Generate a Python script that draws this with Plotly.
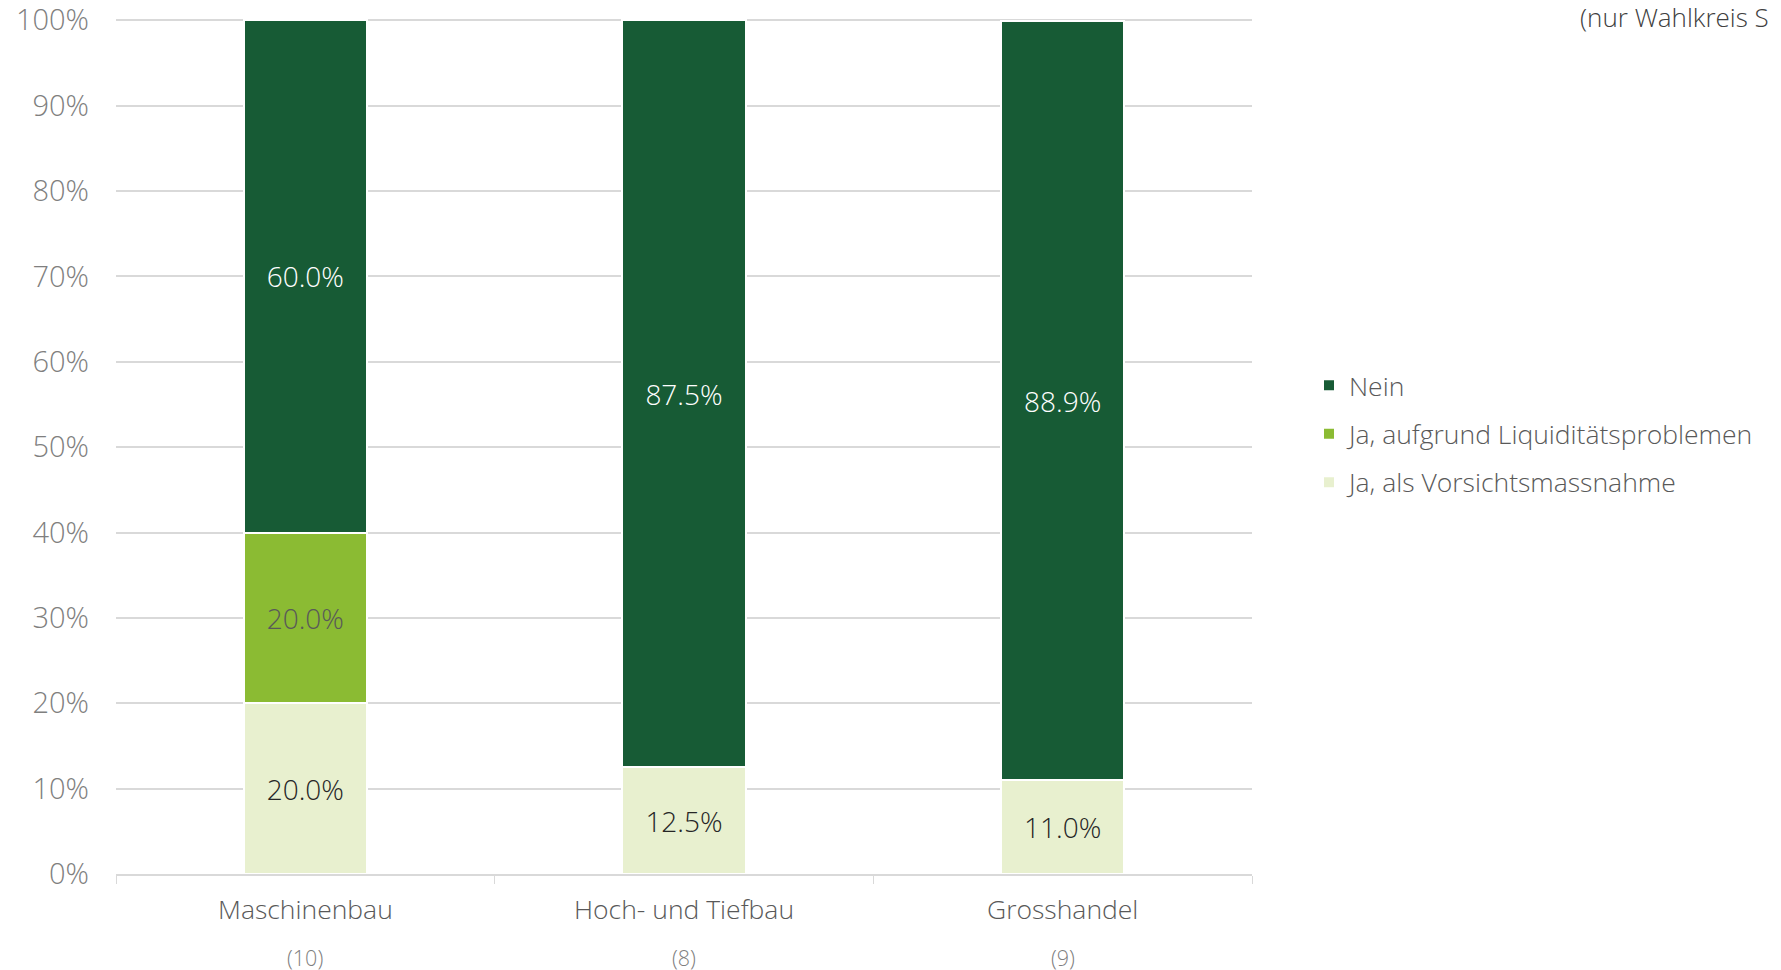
import plotly.graph_objects as go

categories = ["Maschinenbau", "Hoch- und Tiefbau", "Grosshandel"]
counts = ["(10)", "(8)", "(9)"]
series_names = ["Ja, als Vorsichtsmassnahme", "Ja, aufgrund Liquiditätsproblemen", "Nein"]
legend_ranks = [3, 2, 1]
vorsicht = [20.0, 12.5, 11.0]
liquiditaet = [20.0, 0.0, 0.0]
nein = [60.0, 87.5, 88.9]
y_ticks = [0, 10, 20, 30, 40, 50, 60, 70, 80, 90, 100]
colors = ["#E8F0CF", "#8BBB33", "#175B35"]
text_colors = ["#262626", "#595959", "#FFFFFF"]

FONT = "Open Sans, Segoe UI, sans-serif"
W, H = 1781, 970
OFF = 8  # page body margin
Y_MAX = 100.5
UNIT = (874 - 20) / 100.0  # px per percent
L = 116 - OFF
R = W - (1252 - OFF)
B = H - (874 - OFF)
T = round((20 - OFF) - (Y_MAX - 100) * UNIT)
PW, PH = W - L - R, H - T - B


def px(xw):
    return (xw - OFF - L) / PW


def py(yw):
    return (H - B - (yw - OFF)) / PH


fig = go.Figure()
for name, vals, col, tcol, rk in zip(series_names, [vorsicht, liquiditaet, nein], colors,
                                     text_colors, legend_ranks):
    fig.add_trace(go.Bar(
        x=categories, y=vals, name=name, legendgroup=name, legendrank=rk,
        marker=dict(color=col, line=dict(color="white", width=2)),
        text=[f"{v:.1f}%" if v > 0 else "" for v in vals],
        textposition="inside", insidetextanchor="middle",
        textfont=dict(color=tcol, size=28, family=FONT, weight=300),
        width=0.325,
    ))

for c, n in zip(categories, counts):
    fig.add_annotation(x=c, y=0, xref="x", yref="y", text=c, showarrow=False,
                       yanchor="middle", yshift=-35,
                       font=dict(size=26.5, color="#595959", family=FONT, weight=300))
    fig.add_annotation(x=c, y=0, xref="x", yref="y", text=n, showarrow=False,
                       yanchor="middle", yshift=-83,
                       font=dict(size=21.5, color="#7F7F7F", family=FONT, weight=300))

fig.add_annotation(x=px(1578), y=py(17), xref="paper", yref="paper", text="(nur Wahlkreis S",
                   showarrow=False, xanchor="left", yanchor="middle",
                   font=dict(size=26, color="#404040", family=FONT, weight=300))

fig.update_layout(
    width=W, height=H,
    barmode="stack",
    plot_bgcolor="white", paper_bgcolor="white",
    margin=dict(l=L, r=R, t=T, b=B, autoexpand=False),
    font=dict(family=FONT, color="#595959"),
    showlegend=True,
    legend=dict(x=px(1309), y=py(434), xanchor="left", yanchor="middle",
                traceorder="grouped",
                font=dict(size=26.5, color="#595959", weight=300),
                itemwidth=30, tracegroupgap=11, itemsizing="constant"),
    xaxis=dict(showticklabels=False, showline=True, linecolor="#D9D9D9", linewidth=2,
               ticks="outside", tickson="boundaries", ticklen=8, tickcolor="#D9D9D9",
               showgrid=False),
    yaxis=dict(range=[0, Y_MAX], tickvals=y_ticks, ticktext=[f"{t}%" for t in y_ticks],
               showgrid=True, gridcolor="#D9D9D9", gridwidth=2, zeroline=False,
               tickfont=dict(size=29, color="#7F7F7F", weight=300), ticks="",
               ticklabelstandoff=26, ticklabeloverflow="allow"),
)

fig.write_html("out.html")
